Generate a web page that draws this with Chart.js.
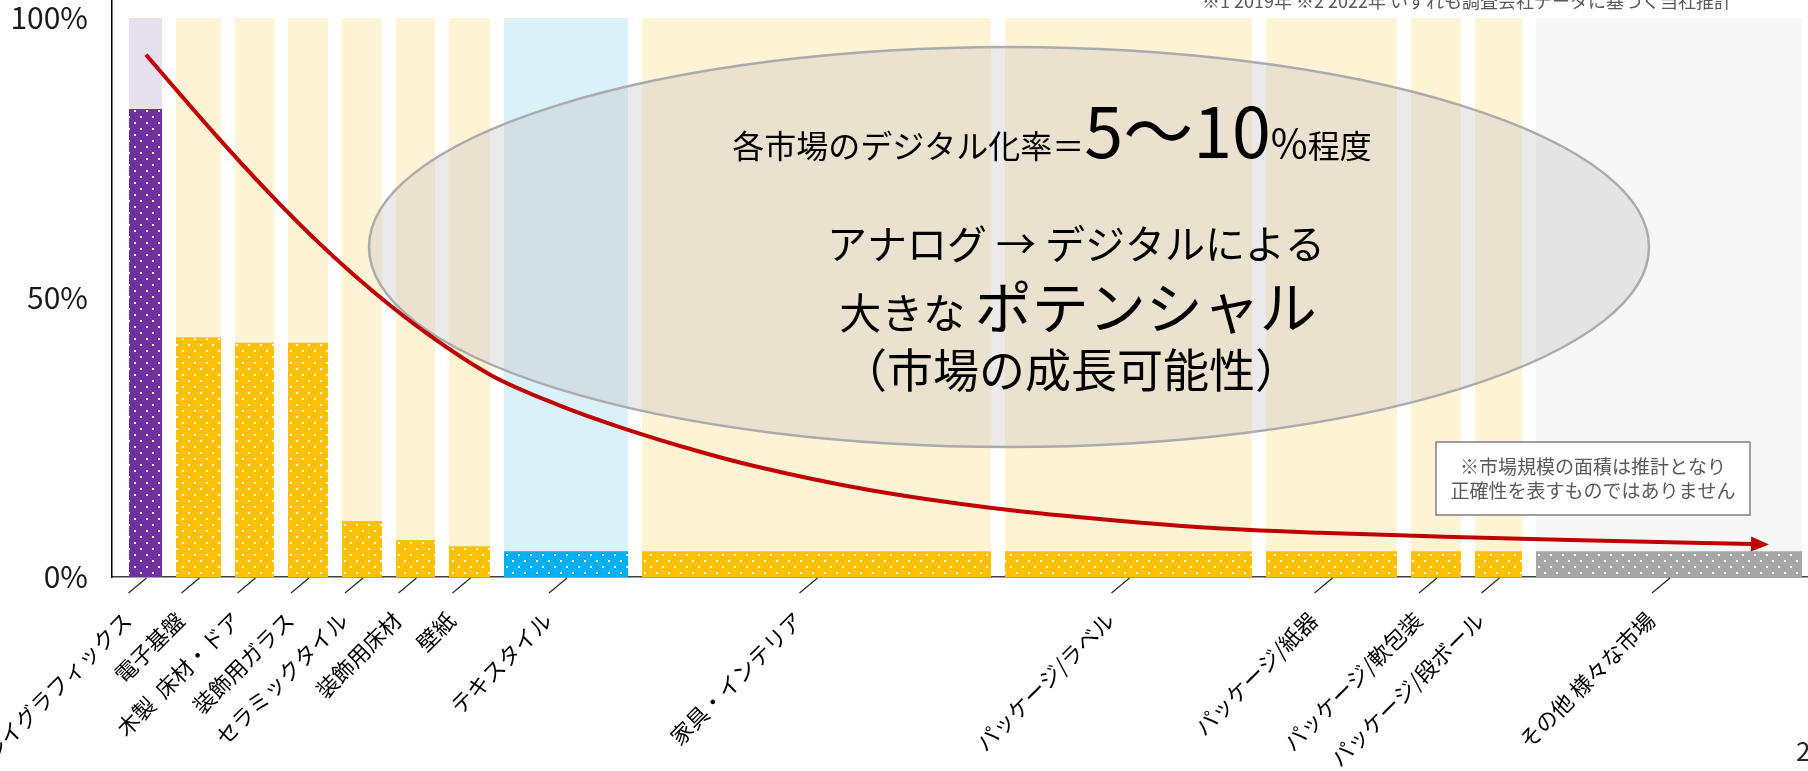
<!DOCTYPE html>
<html lang="ja">
<head>
<meta charset="utf-8">
<script src="https://cdn.jsdelivr.net/npm/chart.js@4.4.1/dist/chart.umd.min.js"></script>
<style>
  html, body { margin: 0; padding: 0; background: #fff; }
  #wrap { width: 1808px; height: 771px; }
</style>
</head>
<body>
<div id="wrap"><canvas id="chart" width="1808" height="771"></canvas></div>
<script>
// market names (x axis), left to right
const categories = [
    'ディスプレイグラフィックス', '電子基盤', '木製  床材・ドア', '装飾用ガラス',
    'セラミックタイル', '装飾用床材', '壁紙', 'テキスタイル', '家具・インテリア',
    'パッケージ/ラベル', 'パッケージ/紙器', 'パッケージ/軟包装', 'パッケージ/段ボール',
    'その他 様々な市場'
];
// relative market size (column width incl. gap)
const marketSize = [47, 59, 53, 54, 54, 53, 55, 138, 363, 261, 145, 64, 61, 280];
// digital share of each market (%)
const digitalRate = [83.7, 42.9, 41.9, 41.9, 10.0, 6.6, 5.5, 4.6, 4.6, 4.6, 4.6, 4.6, 4.6, 4.6];
// market group (drives colour)
const marketGroup = ['graphics', 'industrial', 'industrial', 'industrial', 'industrial',
    'industrial', 'industrial', 'textile', 'industrial', 'industrial', 'industrial',
    'industrial', 'industrial', 'other'];
// trend curve (x in market-size units, y in %)
const trendX = [17, 85, 139, 192, 246, 300, 362, 429, 496, 571, 624, 739, 865, 968, 1071, 1191, 1315, 1441, 1623];
const trendY = [93.4, 79.4, 68.9, 59.4, 50.8, 43.3, 36.1, 30.8, 26.5, 22.4, 19.9, 15.6, 12.3, 10.4, 8.9, 7.9, 7.2, 6.6, 5.9];
const yTicks = [0, 50, 100];

const FONT = '"Noto Sans CJK JP", "Noto Sans", sans-serif';
const GAP = 14;          // white gap between columns
const LABEL_SHIFT = 18;  // labels sit a bit left of the column centre

const palette = {
    graphics:   { bar: '#7030A0', bg: '#E6E0EF' },
    industrial: { bar: '#FFC000', bg: '#FFF3D6' },
    textile:    { bar: '#00B0F0', bg: '#DBF1FA' },
    other:      { bar: '#A6A6A6', bg: '#F7F7F7' }
};

// dotted fill like the office pattern
function dotPattern(color) {
    const c = document.createElement('canvas');
    c.width = 12; c.height = 12;
    const g = c.getContext('2d');
    g.fillStyle = color;
    g.fillRect(0, 0, 12, 12);
    g.fillStyle = '#ffffff';
    g.fillRect(2, 2, 2, 2);
    g.fillRect(8, 8, 2, 2);
    return g.createPattern(c, 'repeat');
}

// column extents from cumulative market size
const starts = [];
let acc = 0;
marketSize.forEach(s => { starts.push(acc); acc += s; });
const ends = starts.map((s, i) => s + marketSize[i] - GAP);
const centers = starts.map((s, i) => (s + ends[i]) / 2);

const datasets = [];
categories.forEach((name, i) => {
    datasets.push({
        label: name + ' bg',
        data: [{ x: starts[i], y: 100 }, { x: ends[i], y: 100 }],
        backgroundColor: palette[marketGroup[i]].bg,
        fill: 'origin', borderWidth: 0, pointRadius: 0, tension: 0, order: 3
    });
});
categories.forEach((name, i) => {
    datasets.push({
        label: name,
        data: [{ x: starts[i], y: digitalRate[i] }, { x: ends[i], y: digitalRate[i] }],
        backgroundColor: dotPattern(palette[marketGroup[i]].bar),
        fill: 'origin', borderWidth: 0, pointRadius: 0, tension: 0, order: 2
    });
});
const curveIndex = datasets.length;
datasets.push({
    label: 'trend',
    data: trendX.map((x, i) => ({ x: x, y: trendY[i] })),
    borderColor: '#C00000', borderWidth: 4, fill: false, pointRadius: 0,
    cubicInterpolationMode: 'monotone', order: 1
});

function drawRuns(ctx, runs, cx, baseline) {
    let total = 0;
    runs.forEach(r => {
        ctx.font = r.size + 'px ' + FONT;
        r.w = ctx.measureText(r.text).width;
        total += r.w;
    });
    let x = cx - total / 2;
    runs.forEach(r => {
        ctx.font = r.size + 'px ' + FONT;
        ctx.fillText(r.text, x, baseline);
        x += r.w;
    });
}

const decorations = {
    id: 'decorations',
    beforeDatasetDraw(chart, args) {
        if (args.index !== curveIndex) return;
        // translucent ellipse behind the red curve
        const ctx = chart.ctx;
        ctx.save();
        ctx.beginPath();
        ctx.ellipse(1009, 247, 640, 200, 0, 0, Math.PI * 2);
        ctx.fillStyle = 'rgba(190,190,190,0.33)';
        ctx.fill();
        ctx.lineWidth = 2.5;
        ctx.strokeStyle = '#ABABAB';
        ctx.stroke();
        ctx.restore();
    },
    afterDatasetsDraw(chart) {
        const ctx = chart.ctx;
        const xs = chart.scales.x;
        const bottom = chart.chartArea.bottom;

        // slanted tick marks under each column
        ctx.save();
        ctx.strokeStyle = '#262626';
        ctx.lineWidth = 1.2;
        centers.forEach(c => {
            const px = xs.getPixelForValue(c);
            ctx.beginPath();
            ctx.moveTo(px + 1, bottom + 1);
            ctx.lineTo(px - 17, bottom + 16);
            ctx.stroke();
        });
        ctx.restore();

        // arrow head at the end of the curve
        const pts = chart.getDatasetMeta(curveIndex).data;
        const p1 = pts[pts.length - 2], p2 = pts[pts.length - 1];
        const ang = Math.atan2(p2.y - p1.y, p2.x - p1.x);
        ctx.save();
        ctx.translate(p2.x, p2.y);
        ctx.rotate(ang);
        ctx.beginPath();
        ctx.moveTo(17, 0);
        ctx.lineTo(-1, -7.5);
        ctx.lineTo(-1, 7.5);
        ctx.closePath();
        ctx.fillStyle = '#C00000';
        ctx.fill();
        ctx.restore();

        // text inside the ellipse
        ctx.save();
        ctx.fillStyle = '#000';
        ctx.textAlign = 'left';
        ctx.textBaseline = 'alphabetic';
        drawRuns(ctx, [
            { text: '各市場のデジタル化率＝', size: 32 },
            { text: '5～10', size: 70 },
            { text: '%', size: 40 },
            { text: '程度', size: 32 }
        ], 1052, 158);
        drawRuns(ctx, [{ text: 'アナログ → デジタルによる', size: 40 }], 1076, 259);
        drawRuns(ctx, [
            { text: '大きな ', size: 42 },
            { text: 'ポテンシャル', size: 57 }
        ], 1078, 329);
        drawRuns(ctx, [{ text: '（市場の成長可能性）', size: 46 }], 1071, 387);
        ctx.restore();

        // note box
        ctx.save();
        ctx.fillStyle = '#ffffff';
        ctx.fillRect(1436, 442, 314, 73);
        ctx.strokeStyle = '#7F7F7F';
        ctx.lineWidth = 1.5;
        ctx.strokeRect(1436, 442, 314, 73);
        ctx.fillStyle = '#595959';
        ctx.font = '19px ' + FONT;
        ctx.textAlign = 'center';
        ctx.textBaseline = 'middle';
        ctx.fillText('※市場規模の面積は推計となり', 1593, 467);
        ctx.fillText('正確性を表すものではありません', 1593, 491);
        ctx.restore();
    },
    afterDraw(chart) {
        const ctx = chart.ctx;
        ctx.save();
        ctx.fillStyle = '#595959';
        ctx.font = '18px ' + FONT;
        ctx.textAlign = 'right';
        ctx.textBaseline = 'alphabetic';
        ctx.fillText('※1 2019年 ※2 2022年 いずれも調査会社データに基づく当社推計', 1732, 8);
        ctx.fillStyle = '#262626';
        ctx.font = '26px ' + FONT;
        ctx.textAlign = 'left';
        ctx.fillText('2', 1796, 761);
        ctx.restore();
    }
};

const ctx = document.getElementById('chart').getContext('2d');
new Chart(ctx, {
    type: 'line',
    data: { datasets: datasets },
    options: {
        responsive: false,
        animation: false,
        layout: { padding: 0 },
        plugins: { legend: { display: false }, tooltip: { enabled: false } },
        scales: {
            x: {
                type: 'linear',
                min: -17,
                max: 1679,
                z: 1,
                grid: { display: false, drawTicks: false },
                border: { display: true, color: '#404040', width: 1.5 },
                afterBuildTicks: scale => {
                    scale.ticks = centers.map(c => ({ value: c - LABEL_SHIFT }));
                },
                afterFit: scale => {
                    scale.height = 194;
                    scale.paddingLeft = 0;
                    scale.paddingRight = 0;
                },
                ticks: {
                    autoSkip: false,
                    minRotation: 45,
                    maxRotation: 45,
                    padding: 30,
                    color: '#000',
                    font: { family: FONT, size: 22 },
                    callback: (v, i) => categories[i]
                }
            },
            y: {
                min: 0,
                max: 103.2,
                grid: { display: false, drawTicks: false },
                border: { display: true, color: '#000', width: 1.5 },
                afterBuildTicks: scale => {
                    scale.ticks = yTicks.map(v => ({ value: v }));
                },
                afterFit: scale => {
                    scale.width = 112;
                    scale.paddingTop = 0;
                    scale.paddingBottom = 0;
                },
                ticks: {
                    padding: 24,
                    color: '#1a1a1a',
                    font: { family: FONT, size: 30 },
                    callback: v => v + '%'
                }
            }
        }
    },
    plugins: [decorations]
});
</script>
</body>
</html>
